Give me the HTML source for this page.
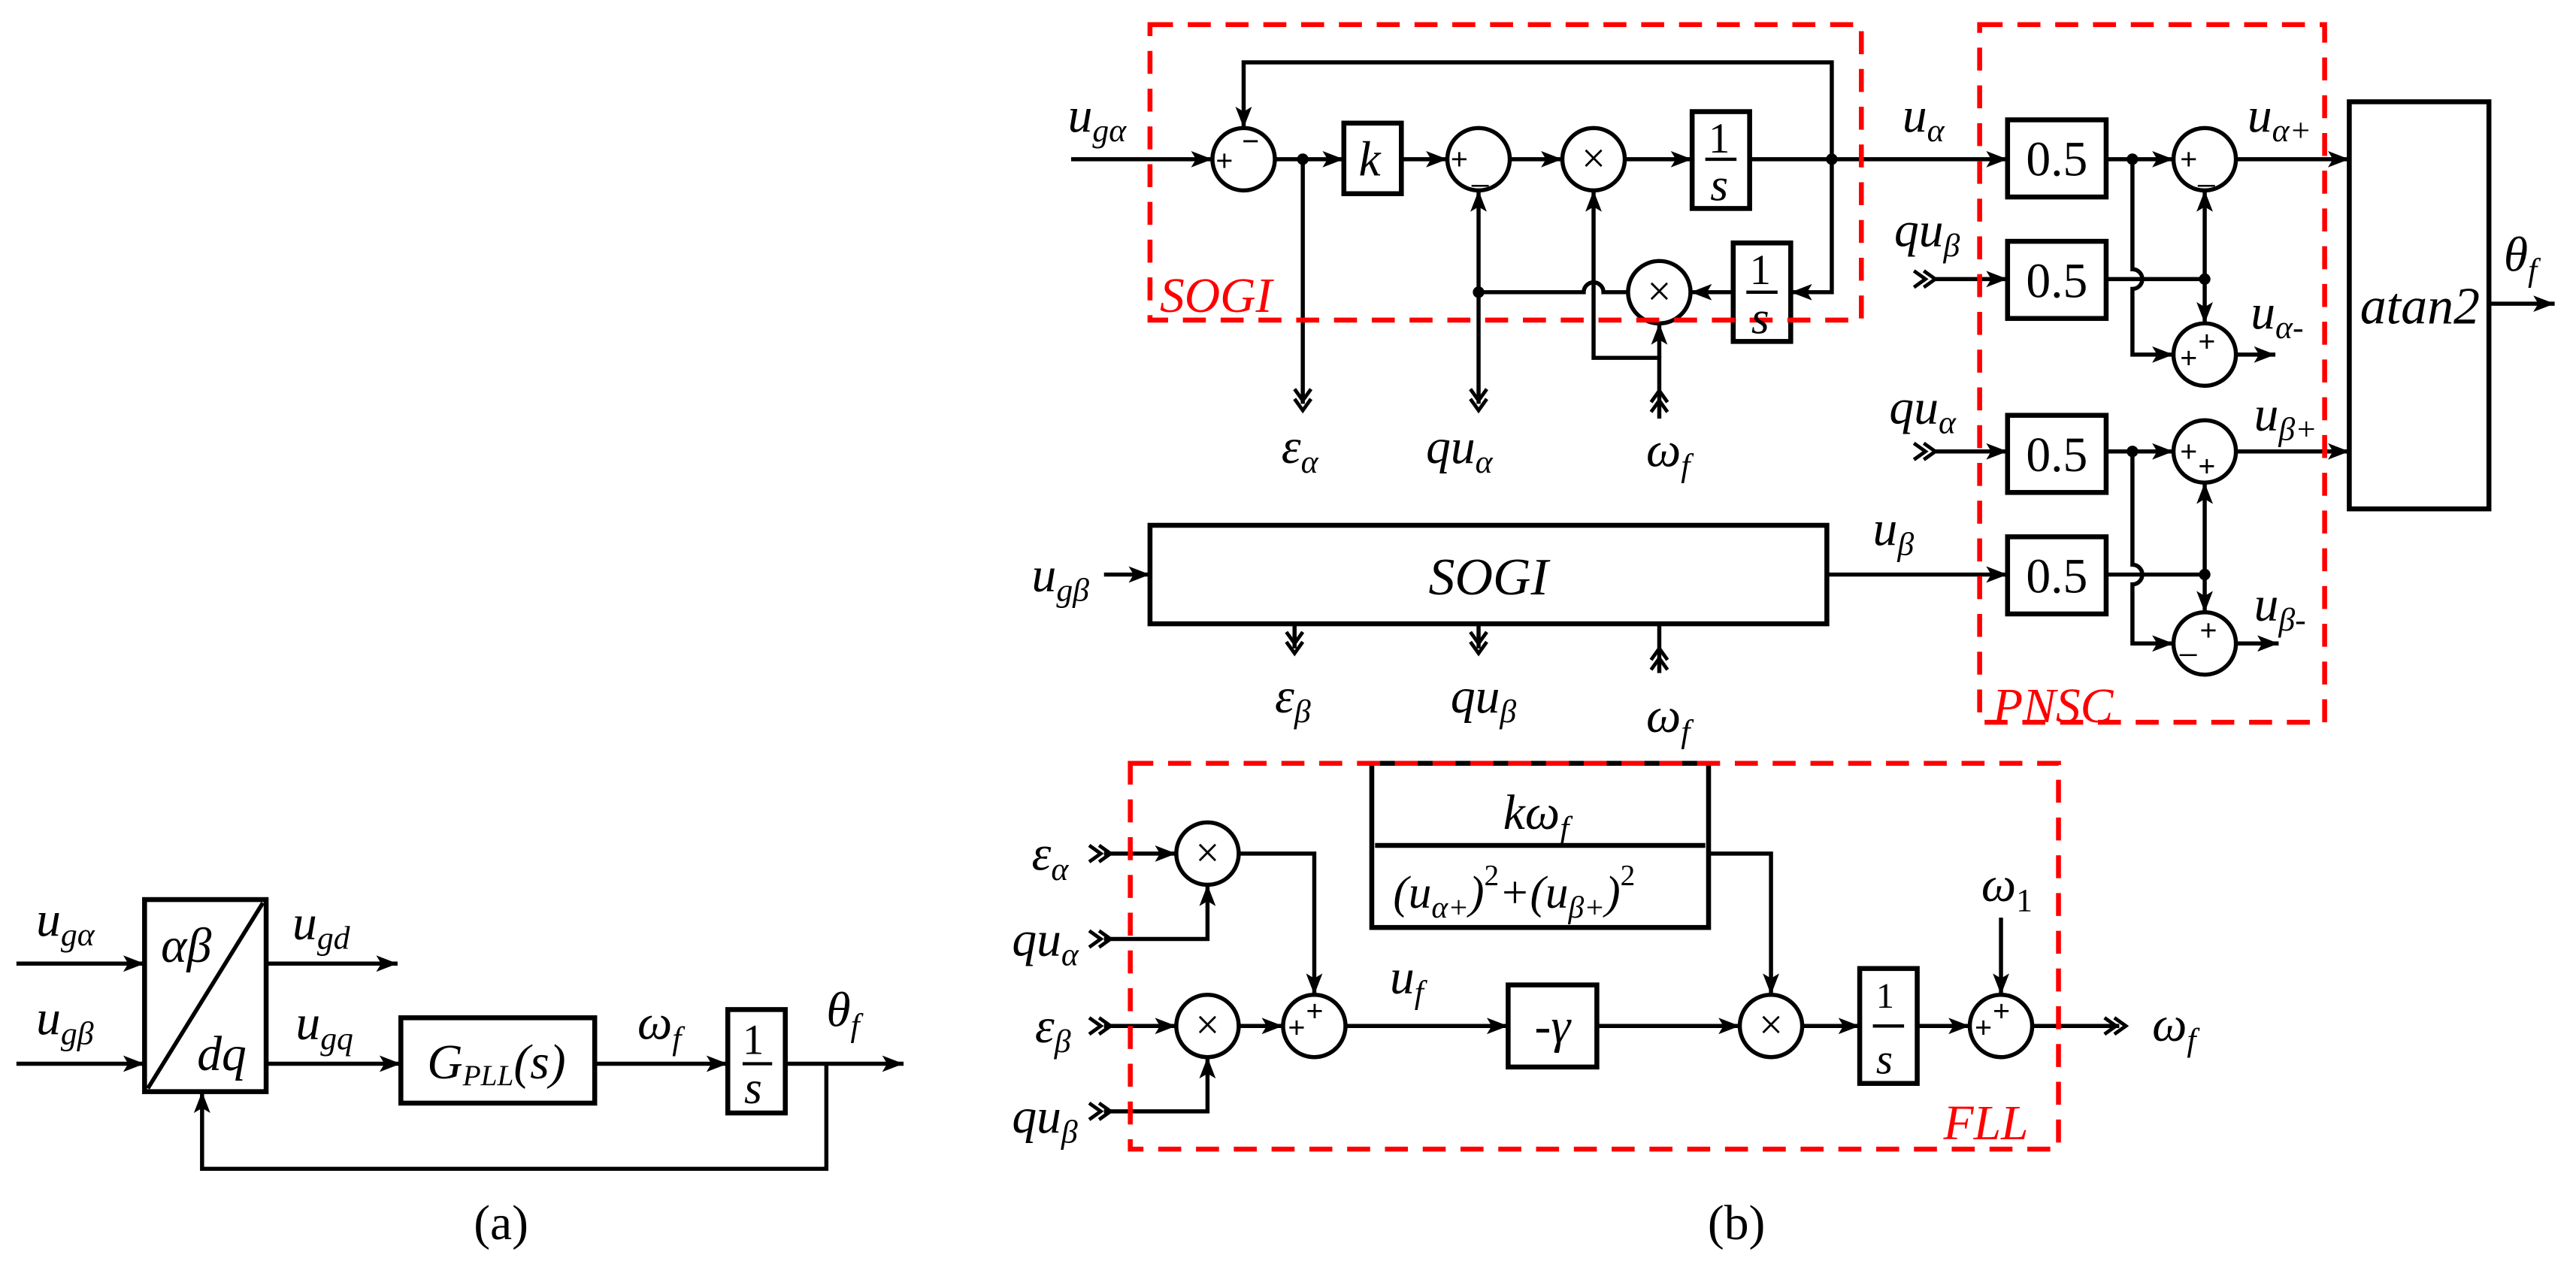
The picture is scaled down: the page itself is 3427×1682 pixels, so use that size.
<!DOCTYPE html>
<html><head><meta charset="utf-8"><style>
html,body{margin:0;padding:0;background:#fff;}
svg{display:block;}
text{font-family:"Liberation Serif","DejaVu Serif",serif;font-style:italic;fill:#000;}
.n{font-style:normal;}
.r{fill:#f00;}
.sg{font-family:"Liberation Sans","DejaVu Sans",sans-serif;font-style:normal;font-size:18px;}
</style></head><body>
<svg width="3427" height="1682" viewBox="0 0 1568 770" preserveAspectRatio="none" xmlns="http://www.w3.org/2000/svg" font-family="Liberation Serif, DejaVu Serif, serif">
<defs>
<marker id="a" markerUnits="userSpaceOnUse" markerWidth="14" markerHeight="10" refX="13" refY="5" orient="auto"><path d="M0,0 L13,5 L0,10 L3,5 z" fill="#000"/></marker>
<g id="dd" fill="none" stroke="#000" stroke-width="2.2"><polyline points="-5,-13 0,-6 5,-13"/><polyline points="-5,-7 0,0 5,-7"/></g>
</defs>
<g stroke="#000" stroke-width="2.5" fill="none">
<!-- (a) -->
<line x1="10" y1="587" x2="88" y2="587" marker-end="url(#a)"/>
<line x1="10" y1="648" x2="88" y2="648" marker-end="url(#a)"/>
<rect x="88" y="548" width="74" height="117" stroke-width="3"/>
<line x1="90" y1="663" x2="160" y2="550"/>
<line x1="162" y1="587" x2="242" y2="587" marker-end="url(#a)"/>
<line x1="162" y1="648" x2="244" y2="648" marker-end="url(#a)"/>
<rect x="244" y="620" width="118" height="52" stroke-width="3"/>
<line x1="362" y1="648" x2="443" y2="648" marker-end="url(#a)"/>
<rect x="443" y="615" width="35" height="63" stroke-width="3"/>
<line x1="452" y1="648" x2="470" y2="648" stroke-width="2"/>
<line x1="478" y1="648" x2="550" y2="648" marker-end="url(#a)"/>
<polyline points="503,648 503,712 123,712 123,665" marker-end="url(#a)"/>

<!-- SOGI top -->
<line x1="652" y1="97" x2="738" y2="97" marker-end="url(#a)"/>
<circle cx="757" cy="97" r="19"/>
<line x1="776" y1="97" x2="818" y2="97" marker-end="url(#a)"/>
<rect x="818" y="75" width="35" height="43" stroke-width="3"/>
<line x1="853" y1="97" x2="881" y2="97" marker-end="url(#a)"/>
<circle cx="900" cy="97" r="19"/>
<line x1="919" y1="97" x2="951" y2="97" marker-end="url(#a)"/>
<circle cx="970" cy="97" r="19"/>
<line x1="989" y1="97" x2="1030" y2="97" marker-end="url(#a)"/>
<rect x="1030" y="68" width="35" height="59" stroke-width="3"/>
<line x1="1038" y1="97" x2="1057" y2="97" stroke-width="2"/>
<line x1="1065" y1="97" x2="1222" y2="97" marker-end="url(#a)"/>
<polyline points="1115,97 1115,38 757,38 757,78" marker-end="url(#a)"/>
<polyline points="1115,97 1115,178 1090,178" marker-end="url(#a)"/>
<rect x="1055" y="148" width="35" height="60" stroke-width="3"/>
<line x1="1063" y1="178" x2="1082" y2="178" stroke-width="2"/>
<line x1="1055" y1="178" x2="1029" y2="178" marker-end="url(#a)"/>
<circle cx="1010" cy="178" r="19"/>
<path d="M991,178 L976,178 A6,6 0 0 0 964,178 L900,178"/>
<line x1="900" y1="178" x2="900" y2="116" marker-end="url(#a)"/>
<line x1="900" y1="178" x2="900" y2="246"/>
<use href="#dd" x="900" y="250"/>
<line x1="793" y1="97" x2="793" y2="246"/>
<use href="#dd" x="793" y="250"/>
<polyline points="1010,255 1010,218 970,218 970,116" marker-end="url(#a)"/>
<line x1="1010" y1="218" x2="1010" y2="197" marker-end="url(#a)"/>
<use href="#dd" x="1010" y="238" transform="rotate(180 1010 238)"/>

<!-- SOGI beta -->
<line x1="672" y1="350" x2="700" y2="350" marker-end="url(#a)"/>
<rect x="700" y="320" width="412" height="60" stroke-width="3"/>
<line x1="1112" y1="350" x2="1222" y2="350" marker-end="url(#a)"/>
<line x1="788" y1="380" x2="788" y2="395"/><use href="#dd" x="788" y="398"/>
<line x1="900" y1="380" x2="900" y2="395"/><use href="#dd" x="900" y="398"/>
<line x1="1010" y1="380" x2="1010" y2="410"/><use href="#dd" x="1010" y="395" transform="rotate(180 1010 395)"/>

<!-- PNSC -->
<rect x="1222" y="73" width="60" height="47" stroke-width="3"/>
<rect x="1222" y="147" width="60" height="47" stroke-width="3"/>
<rect x="1222" y="253" width="60" height="47" stroke-width="3"/>
<rect x="1222" y="327" width="60" height="47" stroke-width="3"/>
<line x1="1178" y1="170" x2="1222" y2="170" marker-end="url(#a)"/>
<use href="#dd" x="1178" y="170" transform="rotate(-90 1178 170)"/>
<line x1="1178" y1="275" x2="1222" y2="275" marker-end="url(#a)"/>
<use href="#dd" x="1178" y="275" transform="rotate(-90 1178 275)"/>
<line x1="1282" y1="97" x2="1323" y2="97" marker-end="url(#a)"/>
<circle cx="1342" cy="97" r="19"/>
<path d="M1298,97 L1298,164 A6,6 0 0 1 1298,176 L1298,216 L1323,216" marker-end="url(#a)"/>
<circle cx="1342" cy="216" r="19"/>
<path d="M1282,170 L1342,170"/>
<line x1="1342" y1="170" x2="1342" y2="116" marker-end="url(#a)"/>
<line x1="1342" y1="170" x2="1342" y2="197" marker-end="url(#a)"/>
<line x1="1361" y1="97" x2="1430" y2="97" marker-end="url(#a)"/>
<line x1="1361" y1="216" x2="1385" y2="216" marker-end="url(#a)"/>
<line x1="1282" y1="275" x2="1323" y2="275" marker-end="url(#a)"/>
<circle cx="1342" cy="275" r="19"/>
<path d="M1298,275 L1298,344 A6,6 0 0 1 1298,356 L1298,392 L1323,392" marker-end="url(#a)"/>
<circle cx="1342" cy="392" r="19"/>
<path d="M1282,350 L1342,350"/>
<line x1="1342" y1="350" x2="1342" y2="294" marker-end="url(#a)"/>
<line x1="1342" y1="350" x2="1342" y2="373" marker-end="url(#a)"/>
<line x1="1361" y1="275" x2="1430" y2="275" marker-end="url(#a)"/>
<line x1="1361" y1="392" x2="1387" y2="392" marker-end="url(#a)"/>
<rect x="1430" y="62" width="85" height="248" stroke-width="3"/>
<line x1="1515" y1="185" x2="1555" y2="185" marker-end="url(#a)"/>

<!-- FLL -->
<circle cx="735" cy="520" r="19"/>
<circle cx="735" cy="625" r="19"/>
<line x1="672" y1="520" x2="716" y2="520" marker-end="url(#a)"/>
<use href="#dd" x="676" y="520" transform="rotate(-90 676 520)"/>
<polyline points="672,572 735,572 735,539" marker-end="url(#a)"/>
<use href="#dd" x="676" y="572" transform="rotate(-90 676 572)"/>
<line x1="672" y1="625" x2="716" y2="625" marker-end="url(#a)"/>
<use href="#dd" x="676" y="625" transform="rotate(-90 676 625)"/>
<polyline points="672,677 735,677 735,644" marker-end="url(#a)"/>
<use href="#dd" x="676" y="677" transform="rotate(-90 676 677)"/>
<polyline points="754,520 800,520 800,606" marker-end="url(#a)"/>
<line x1="754" y1="625" x2="781" y2="625" marker-end="url(#a)"/>
<circle cx="800" cy="625" r="19"/>
<line x1="819" y1="625" x2="918" y2="625" marker-end="url(#a)"/>
<rect x="918" y="600" width="54" height="50" stroke-width="3"/>
<line x1="972" y1="625" x2="1059" y2="625" marker-end="url(#a)"/>
<circle cx="1078" cy="625" r="19"/>
<rect x="835" y="465" width="205" height="100" stroke-width="3"/>
<line x1="837" y1="515" x2="1038" y2="515" stroke-width="3"/>
<polyline points="1040,520 1078,520 1078,606" marker-end="url(#a)"/>
<line x1="1097" y1="625" x2="1132" y2="625" marker-end="url(#a)"/>
<rect x="1132" y="590" width="35" height="70" stroke-width="3"/>
<line x1="1140" y1="625" x2="1159" y2="625" stroke-width="2"/>
<line x1="1167" y1="625" x2="1199" y2="625" marker-end="url(#a)"/>
<circle cx="1218" cy="625" r="19"/>
<line x1="1218" y1="559" x2="1218" y2="606" marker-end="url(#a)"/>
<line x1="1237" y1="625" x2="1290" y2="625"/>
<use href="#dd" x="1294" y="625" transform="rotate(-90 1294 625)"/>
</g>

<g fill="#000">
<circle cx="793" cy="97" r="3.5"/><circle cx="1115" cy="97" r="3.5"/><circle cx="900" cy="178" r="3.5"/>
<circle cx="1298" cy="97" r="3.5"/><circle cx="1342" cy="170" r="3.5"/>
<circle cx="1298" cy="275" r="3.5"/><circle cx="1342" cy="350" r="3.5"/>
</g>

<g stroke="#f00" stroke-width="3" fill="none" stroke-dasharray="14,9">
<rect x="700" y="15" width="433" height="180"/>
<rect x="1205" y="15" width="210" height="425"/>
<rect x="688" y="465" width="565" height="235"/>
</g>

<g font-size="26">
<text x="970" y="105" text-anchor="middle" class="n" font-size="26">×</text>
<text x="1010" y="186" text-anchor="middle" class="n" font-size="26">×</text>
<text x="735" y="528" text-anchor="middle" class="n" font-size="26">×</text>
<text x="735" y="633" text-anchor="middle" class="n" font-size="26">×</text>
<text x="1078" y="633" text-anchor="middle" class="n" font-size="26">×</text>
</g>
<g>
<text class="sg" x="740" y="104">+</text><text class="sg" x="756" y="92">−</text>
<text class="sg" x="883" y="103">+</text><text class="sg" x="896" y="110">_</text>
<text class="sg" x="1327" y="103">+</text><text class="sg" x="1338" y="110">_</text>
<text class="sg" x="1327" y="224">+</text><text class="sg" x="1338" y="214">+</text>
<text class="sg" x="1327" y="281">+</text><text class="sg" x="1338" y="290">+</text>
<text class="sg" x="1327" y="396">_</text><text class="sg" x="1339" y="390">+</text>
<text class="sg" x="784" y="632">+</text><text class="sg" x="795" y="622">+</text>
<text class="sg" x="1202" y="632">+</text><text class="sg" x="1213" y="622">+</text>
</g>

<g font-size="30">
<text x="22" y="570">u<tspan font-size="20" dy="6">gα</tspan></text>
<text x="22" y="630">u<tspan font-size="20" dy="6">gβ</tspan></text>
<text x="98" y="586">αβ</text>
<text x="120" y="652">dq</text>
<text x="178" y="572">u<tspan font-size="20" dy="6">gd</tspan></text>
<text x="180" y="633">u<tspan font-size="20" dy="6">gq</tspan></text>
<text x="260" y="657">G<tspan font-size="18" dy="4">PLL</tspan><tspan dy="-4">(s)</tspan></text>
<text x="388" y="633">ω<tspan font-size="20" dy="6">f</tspan></text>
<text x="452" y="642" class="n" font-size="26">1</text>
<text x="453" y="672" font-size="28">s</text>
<text x="503" y="625">θ<tspan font-size="20" dy="6">f</tspan></text>
<text x="305" y="755" class="n" text-anchor="middle">(a)</text>

<text x="650" y="80">u<tspan font-size="20" dy="6">gα</tspan></text>
<text x="827" y="107">k</text>
<text x="1040" y="93" class="n" font-size="26">1</text>
<text x="1041" y="122" font-size="28">s</text>
<text x="1065" y="173" class="n" font-size="26">1</text>
<text x="1066" y="203" font-size="28">s</text>
<text x="1158" y="80">u<tspan font-size="20" dy="6">α</tspan></text>
<text x="706" y="190" class="r">SOGI</text>
<text x="780" y="282">ε<tspan font-size="20" dy="6">α</tspan></text>
<text x="868" y="282">qu<tspan font-size="20" dy="6">α</tspan></text>
<text x="1002" y="284">ω<tspan font-size="20" dy="6">f</tspan></text>
<text x="628" y="360">u<tspan font-size="20" dy="6">gβ</tspan></text>
<text x="906" y="362" text-anchor="middle" font-size="32">SOGI</text>
<text x="1140" y="332">u<tspan font-size="20" dy="6">β</tspan></text>
<text x="776" y="434">ε<tspan font-size="20" dy="6">β</tspan></text>
<text x="883" y="434">qu<tspan font-size="20" dy="6">β</tspan></text>
<text x="1002" y="446">ω<tspan font-size="20" dy="6">f</tspan></text>
<text x="1153" y="150">qu<tspan font-size="20" dy="6">β</tspan></text>
<text x="1150" y="258">qu<tspan font-size="20" dy="6">α</tspan></text>
<g class="n" font-size="30"><text class="n" x="1252" y="107" text-anchor="middle">0.5</text><text class="n" x="1252" y="181" text-anchor="middle">0.5</text><text class="n" x="1252" y="287" text-anchor="middle">0.5</text><text class="n" x="1252" y="361" text-anchor="middle">0.5</text></g>
<text x="1368" y="80">u<tspan font-size="20" dy="6">α+</tspan></text>
<text x="1370" y="200">u<tspan font-size="20" dy="6">α-</tspan></text>
<text x="1372" y="262">u<tspan font-size="20" dy="6">β+</tspan></text>
<text x="1372" y="378">u<tspan font-size="20" dy="6">β-</tspan></text>
<text x="1473" y="197" text-anchor="middle" font-size="32">atan2</text>
<text x="1524" y="165">θ<tspan font-size="20" dy="6">f</tspan></text>
<text x="1213" y="440" class="r">PNSC</text>

<text x="628" y="530">ε<tspan font-size="20" dy="6">α</tspan></text>
<text x="616" y="582">qu<tspan font-size="20" dy="6">α</tspan></text>
<text x="630" y="635">ε<tspan font-size="20" dy="6">β</tspan></text>
<text x="616" y="690">qu<tspan font-size="20" dy="6">β</tspan></text>
<text x="915" y="505">kω<tspan font-size="20" dy="6">f</tspan></text>
<text x="848" y="553" font-size="28">(u<tspan font-size="19" dy="6">α+</tspan><tspan dy="-6">)</tspan><tspan font-size="18" dy="-14" class="n">2</tspan><tspan dy="14">+(u</tspan><tspan font-size="19" dy="6">β+</tspan><tspan dy="-6">)</tspan><tspan font-size="18" dy="-14" class="n">2</tspan></text>
<text x="846" y="605">u<tspan font-size="20" dy="6">f</tspan></text>
<text x="945" y="635" text-anchor="middle">-γ</text>
<text x="1142" y="614" class="n" font-size="22">1</text>
<text x="1142" y="654" font-size="26">s</text>
<text x="1206" y="549">ω<tspan font-size="20" dy="6" class="n">1</tspan></text>
<text x="1310" y="634">ω<tspan font-size="20" dy="6">f</tspan></text>
<text x="1183" y="694" class="r">FLL</text>
<text x="1057" y="755" class="n" text-anchor="middle">(b)</text>
</g>
</svg>
</body></html>
